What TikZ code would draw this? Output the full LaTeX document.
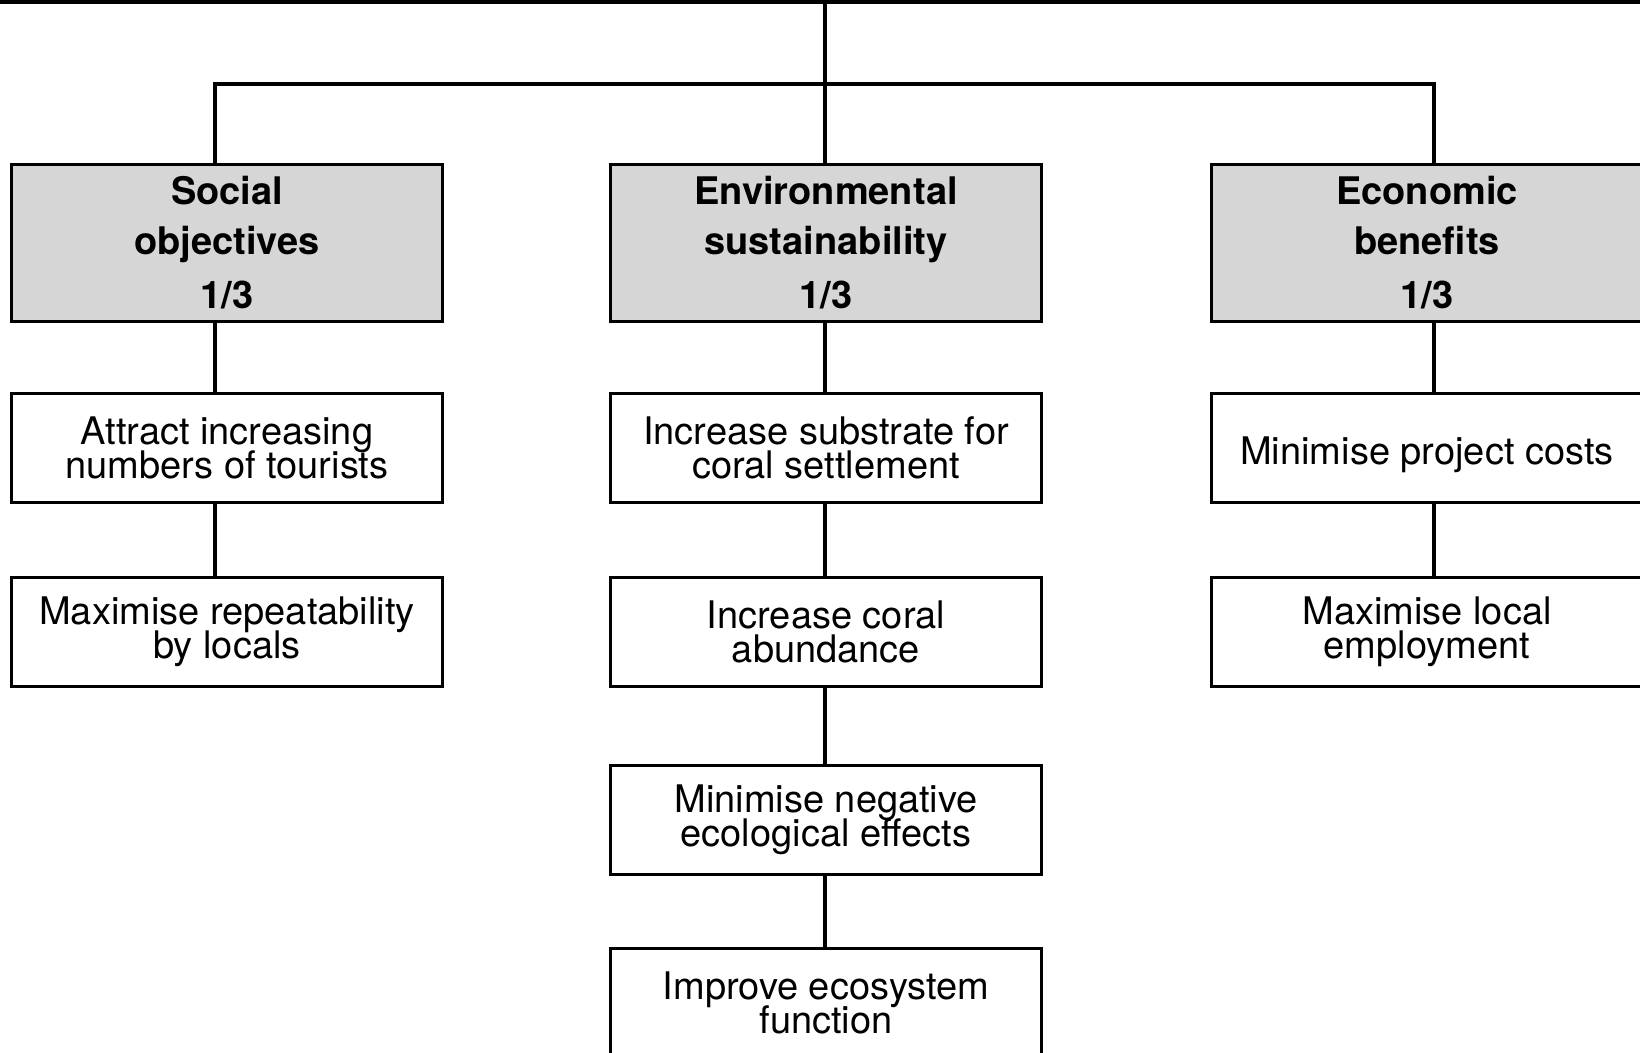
\documentclass[tikz,border=0pt]{standalone}
\usepackage{fontspec}
\setmainfont{TeX Gyre Heros}
\lineskiplimit=-100pt
\begin{document}
\begin{tikzpicture}[x=1pt,y=-1pt,
  conn/.style={line width=3.4pt},
  headbox/.style={draw, line width=3.6pt, fill=black!16, minimum width=431pt, minimum height=157pt,
     align=center, inner sep=0pt, font=\fontsize{38}{50}\selectfont\bfseries},
  subbox/.style={draw, line width=3.6pt, fill=white, minimum width=431pt, minimum height=109pt,
     align=center, inner sep=0pt, font=\fontsize{38}{34.5}\selectfont}]
\useasboundingbox (0,0) rectangle (1640,1052);
\clip (0,0) rectangle (1640,1052);
% headers
\node[headbox] (soc) at (227,243) {Social\\objectives\\[4pt]1/3};
\node[headbox] (env) at (826,243) {Environmental\\sustainability\\[4pt]1/3};
\node[headbox] (eco) at (1427,243) {Economic\\benefits\\[4pt]1/3};
% social column
\node[subbox] (s1) at (227,448) {Attract increasing\\numbers of tourists};
\node[subbox] (s2) at (227,632) {Maximise repeatability\\by locals};
% environmental column
\node[subbox] (e1) at (826,448) {Increase substrate for\\coral settlement};
\node[subbox] (e2) at (826,632) {Increase coral\\abundance};
\node[subbox] (e3) at (826,820) {Minimise negative\\ecological effects};
\node[subbox] (e4) at (826,1003) {Improve ecosystem\\function};
% economic column
\node[subbox] (c1) at (1427,448) {\raisebox{0pt}[40pt][8pt]{Minimise project costs}};
\node[subbox] (c2) at (1427,632) {Maximise local\\employment};
% helper coordinates
\coordinate (topl) at (0,2);
\coordinate (topr) at (1640,2);
\coordinate (topc) at (825,0);
\coordinate (bar) at (825,84);
\coordinate (sx) at (215,0);
\coordinate (ex) at (1434,0);
% top line and trunk
\draw[line width=4.8pt] (topl) -- (topr);
\draw[conn] (topc) -- (env.north -| topc);
\draw[conn, line join=miter] (sx |- soc.north) -- (sx |- bar) -- (ex |- bar) -- (ex |- eco.north);
% social links
\draw[conn] (sx |- soc.south) -- (sx |- s1.north);
\draw[conn] (sx |- s1.south) -- (sx |- s2.north);
% environmental links
\draw[conn] (env.south -| topc) -- (e1.north -| topc);
\draw[conn] (e1.south -| topc) -- (e2.north -| topc);
\draw[conn] (e2.south -| topc) -- (e3.north -| topc);
\draw[conn] (e3.south -| topc) -- (e4.north -| topc);
% economic links
\draw[conn] (ex |- eco.south) -- (ex |- c1.north);
\draw[conn] (ex |- c1.south) -- (ex |- c2.north);
\end{tikzpicture}
\end{document}
